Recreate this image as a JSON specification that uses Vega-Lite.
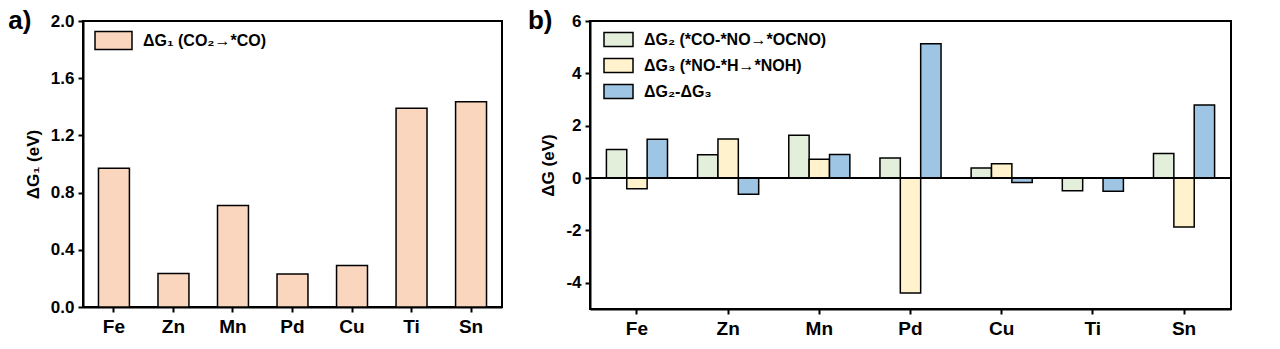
{
  "$schema": "https://vega.github.io/schema/vega-lite/v6.json",
  "padding": {"left": 7, "top": 7, "right": 10, "bottom": 5},
  "background": "white",
  "resolve": {"scale": {"color": "independent"}, "legend": {"color": "independent"}},
  "config": {
    "font": "Liberation Sans",
    "view": {"stroke": "black", "strokeWidth": 2},
    "axis": {
      "grid": false,
      "domainColor": "black",
      "domainWidth": 2,
      "tickColor": "black",
      "tickWidth": 2,
      "tickSize": 5,
      "labelColor": "black",
      "labelFontWeight": "bold",
      "labelFont": "Liberation Sans",
      "titleColor": "black",
      "titleFontWeight": "bold",
      "titleFont": "Liberation Sans"
    },
    "legend": {
      "labelFont": "Liberation Sans",
      "labelFontWeight": "bold",
      "labelColor": "black",
      "labelLimit": 400,
      "symbolStrokeColor": "black",
      "symbolStrokeWidth": 1.5,
      "symbolOpacity": 1,
      "padding": 0
    },
    "title": {"font": "Liberation Sans", "fontWeight": "bold", "color": "black"},
    "concat": {"spacing": 23}
  },
  "hconcat": [
    {
      "width": 419,
      "height": 286,
      "title": {"text": "a)", "anchor": "start", "frame": "bounds", "fontSize": 26, "offset": -22, "dx": -16},
      "data": {
        "values": [
          {"metal": "Fe", "series": "ΔG₁ (CO₂→*CO)", "value": 0.97},
          {"metal": "Zn", "series": "ΔG₁ (CO₂→*CO)", "value": 0.235},
          {"metal": "Mn", "series": "ΔG₁ (CO₂→*CO)", "value": 0.71},
          {"metal": "Pd", "series": "ΔG₁ (CO₂→*CO)", "value": 0.23},
          {"metal": "Cu", "series": "ΔG₁ (CO₂→*CO)", "value": 0.29},
          {"metal": "Ti", "series": "ΔG₁ (CO₂→*CO)", "value": 1.39},
          {"metal": "Sn", "series": "ΔG₁ (CO₂→*CO)", "value": 1.435}
        ]
      },
      "mark": {"type": "bar", "stroke": "black", "strokeWidth": 1.5},
      "encoding": {
        "x": {
          "field": "metal", "type": "nominal", "sort": null,
          "scale": {"paddingInner": 0.48, "paddingOuter": 0.26},
          "axis": {"title": null, "labelAngle": 0, "labelFontSize": 19, "labelPadding": 5}
        },
        "y": {
          "field": "value", "type": "quantitative",
          "scale": {"domain": [0, 2]},
          "axis": {"title": "ΔG₁ (eV)", "values": [0, 0.4, 0.8, 1.2, 1.6, 2.0], "format": ".1f", "labelFontSize": 17, "titleFontSize": 17, "titlePadding": 8, "labelPadding": 4}
        },
        "color": {
          "field": "series", "type": "nominal",
          "scale": {"range": ["#F9D6BD"]},
          "legend": {"title": null, "orient": "top-left", "offset": 0, "symbolOffset": 11, "symbolType": "M-1,-0.49H1V0.49H-1Z", "symbolSize": 1369, "labelFontSize": 16, "labelOffset": 10}
        }
      }
    },
    {
      "width": 641,
      "height": 288,
      "title": {"text": "b)", "anchor": "start", "frame": "bounds", "fontSize": 26, "offset": -22, "dx": -12},
      "data": {
        "values": [
          {"metal": "Fe", "series": "ΔG₂ (*CO-*NO→*OCNO)", "value": 1.09},
          {"metal": "Fe", "series": "ΔG₃ (*NO-*H→*NOH)", "value": -0.41},
          {"metal": "Fe", "series": "ΔG₂-ΔG₃", "value": 1.48},
          {"metal": "Zn", "series": "ΔG₂ (*CO-*NO→*OCNO)", "value": 0.89},
          {"metal": "Zn", "series": "ΔG₃ (*NO-*H→*NOH)", "value": 1.49},
          {"metal": "Zn", "series": "ΔG₂-ΔG₃", "value": -0.62},
          {"metal": "Mn", "series": "ΔG₂ (*CO-*NO→*OCNO)", "value": 1.64},
          {"metal": "Mn", "series": "ΔG₃ (*NO-*H→*NOH)", "value": 0.72},
          {"metal": "Mn", "series": "ΔG₂-ΔG₃", "value": 0.9},
          {"metal": "Pd", "series": "ΔG₂ (*CO-*NO→*OCNO)", "value": 0.77},
          {"metal": "Pd", "series": "ΔG₃ (*NO-*H→*NOH)", "value": -4.39},
          {"metal": "Pd", "series": "ΔG₂-ΔG₃", "value": 5.13},
          {"metal": "Cu", "series": "ΔG₂ (*CO-*NO→*OCNO)", "value": 0.39},
          {"metal": "Cu", "series": "ΔG₃ (*NO-*H→*NOH)", "value": 0.55},
          {"metal": "Cu", "series": "ΔG₂-ΔG₃", "value": -0.17},
          {"metal": "Ti", "series": "ΔG₂ (*CO-*NO→*OCNO)", "value": -0.48},
          {"metal": "Ti", "series": "ΔG₃ (*NO-*H→*NOH)", "value": 0.01},
          {"metal": "Ti", "series": "ΔG₂-ΔG₃", "value": -0.5},
          {"metal": "Sn", "series": "ΔG₂ (*CO-*NO→*OCNO)", "value": 0.94},
          {"metal": "Sn", "series": "ΔG₃ (*NO-*H→*NOH)", "value": -1.87},
          {"metal": "Sn", "series": "ΔG₂-ΔG₃", "value": 2.79}
        ]
      },
      "layer": [
        {
          "mark": {"type": "bar", "stroke": "black", "strokeWidth": 1.5},
          "encoding": {
            "x": {
              "field": "metal", "type": "nominal", "sort": null,
              "scale": {"paddingInner": 0.33, "paddingOuter": 0.18},
              "axis": {"title": null, "labelAngle": 0, "labelFontSize": 19, "labelPadding": 5}
            },
            "xOffset": {"field": "series", "type": "nominal", "sort": null},
            "y": {
              "field": "value", "type": "quantitative",
              "scale": {"domain": [-5, 6]},
              "axis": {"title": "ΔG (eV)", "values": [-4, -2, 0, 2, 4, 6], "labelExpr": "'' + datum.value", "labelFontSize": 17, "titleFontSize": 17, "titlePadding": 8, "labelPadding": 4}
            },
            "color": {
              "field": "series", "type": "nominal", "sort": null,
              "scale": {"domain": ["ΔG₂ (*CO-*NO→*OCNO)", "ΔG₃ (*NO-*H→*NOH)", "ΔG₂-ΔG₃"], "range": ["#E3EFDA", "#FFF2CD", "#9EC5E3"]},
              "legend": {"title": null, "orient": "top-left", "offset": 3, "symbolOffset": 10, "symbolType": "M-1,-0.483H1V0.483H-1Z", "symbolSize": 841, "labelFontSize": 16, "labelOffset": 10, "rowPadding": -2}
            }
          }
        },
        {
          "mark": {"type": "rule", "color": "black", "strokeWidth": 2},
          "encoding": {"y": {"datum": 0}}
        }
      ]
    }
  ]
}
